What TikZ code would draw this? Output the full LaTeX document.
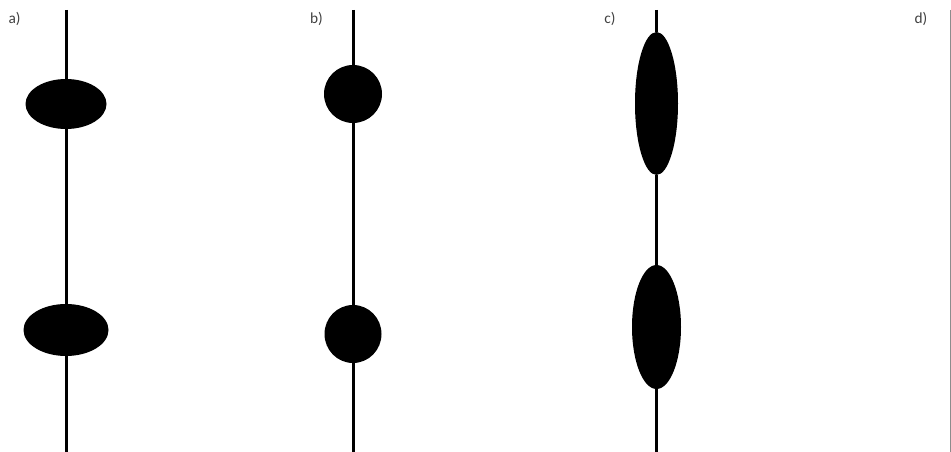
\documentclass[tikz,border=0pt]{standalone}
\usepackage{fontspec}
\setmainfont{Carlito}
\usetikzlibrary{shapes.geometric}
\definecolor{lblgray}{rgb}{0.25,0.25,0.25}
\definecolor{edgegray}{rgb}{0.55,0.55,0.55}

\tikzset{
	blob/.style={ellipse, fill=black, draw=none, inner sep=0pt},
	stem/.style={line width=2.25pt, color=black},
	panel/.style={color=lblgray, font=\fontsize{11.5pt}{13pt}\selectfont, inner sep=0pt}
}

\begin{document}
\begin{tikzpicture}[x=0.75pt,y=0.75pt,yscale=-1,xscale=1]
	\useasboundingbox (0,0) rectangle (951,452);
	
	%Shape: ends of the stems
	\coordinate (topA) at (66,10);
	\coordinate (botA) at (66,453);
	\coordinate (topB) at (353,10);
	\coordinate (botB) at (353,453);
	\coordinate (topC) at (656.5,10);
	\coordinate (botC) at (656.5,453);
	
	%Shape: Ellipse a)
	\node [blob, minimum width=60.75pt, minimum height=37.5pt] (a1) at (66,104) {};
	\node [blob, minimum width=63.75pt, minimum height=39pt] (a2) at (66,330) {};
	%Shape: Circle b)
	\node [blob, minimum width=43.5pt, minimum height=43.5pt] (b1) at (353,94) {};
	\node [blob, minimum width=42.75pt, minimum height=43.5pt] (b2) at (353,334) {};
	%Shape: Ellipse c)
	\node [blob, minimum width=32.25pt, minimum height=107.25pt] (c1) at (656.5,103.5) {};
	\node [blob, minimum width=36.75pt, minimum height=93pt] (c2) at (656.5,327) {};
	
	%Straight Lines
	\draw [stem] (topA) -- (a1) -- (a2) -- (botA);
	\draw [stem] (topB) -- (b1) -- (b2) -- (botB);
	\draw [stem] (topC) -- (c1) -- (c2) -- (botC);
	
	%Straight Lines: right border
	\coordinate (topD) at (950.5,10);
	\coordinate (botD) at (950.5,453);
	\draw [color=edgegray, line width=0.75pt] (topD) -- (botD);
	
	% Text Node
	\node [panel] (lblA) at (14.5,18.5) {a)};
	% Text Node
	\node [panel] (lblB) at (316.5,18.5) {b)};
	% Text Node
	\node [panel] (lblC) at (610,18.5) {c)};
	% Text Node
	\node [panel] (lblD) at (921,18.5) {d)};
	
\end{tikzpicture}
\end{document}
